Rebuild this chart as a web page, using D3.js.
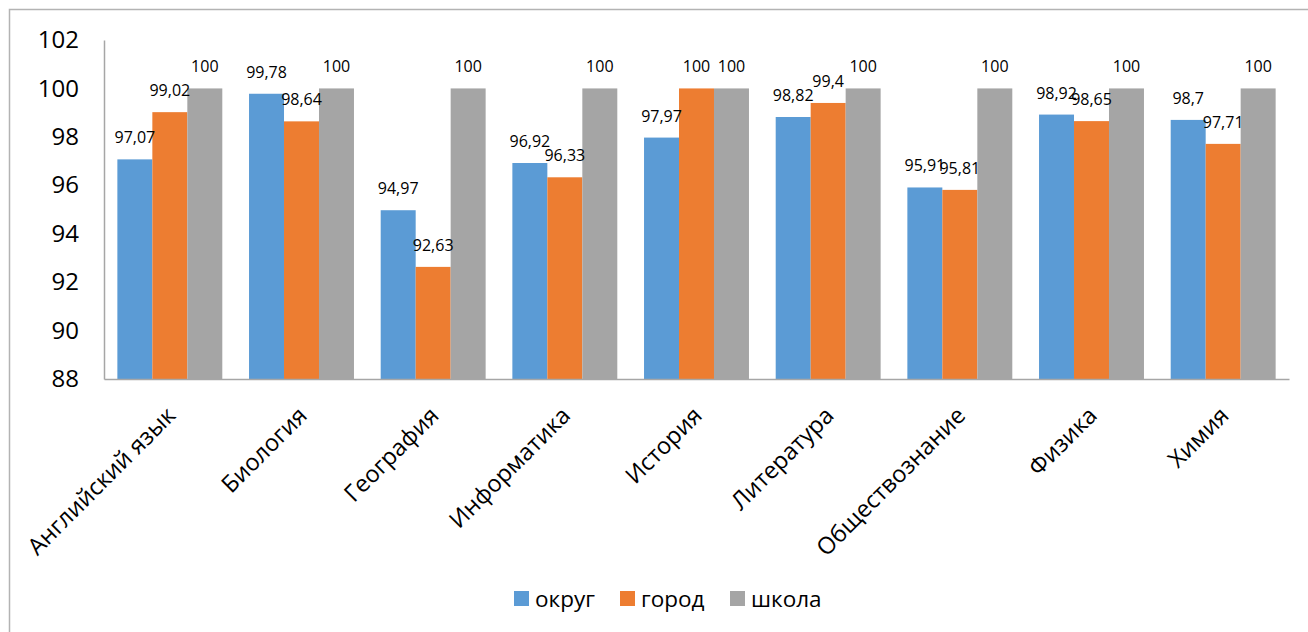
<!DOCTYPE html>
<html><head><meta charset="utf-8">
<script src="https://cdn.jsdelivr.net/npm/d3@7"></script>
<style>body{margin:0;background:#fff}svg{display:block;font-family:"Open Sans",sans-serif}</style>
</head><body>
<svg id="c" width="1308" height="632"></svg>
<script>
const categories = ["Английский язык","Биология","География","Информатика","История","Литература","Обществознание","Физика","Химия"];
const seriesNames = ["округ","город","школа"];
const okrug  = [97.07, 99.78, 94.97, 96.92, 97.97, 98.82, 95.91, 98.92, 98.7];
const gorod  = [99.02, 98.64, 92.63, 96.33, 100, 99.4, 95.81, 98.65, 97.71];
const shkola = [100, 100, 100, 100, 100, 100, 100, 100, 100];
const yTicks = [88, 90, 92, 94, 96, 98, 100, 102];
const colors = ["#5B9BD5", "#ED7D31", "#A5A5A5"];

(function () {
const seriesValues = [okrug, gorod, shkola];
const svg = d3.select("#c");
const pLeft = 104, pRight = 1289, pTop = 40, pBottom = 379;

svg.append("rect").attr("x", 9.5).attr("y", 9.5).attr("width", 1320).attr("height", 650)
  .attr("fill", "none").attr("stroke", "#b3b3b3").attr("stroke-width", 1.5);

const x = d3.scaleBand().domain(categories).range([pLeft, pRight]).paddingInner(0.203).paddingOuter(0.1015);
const xs = d3.scaleBand().domain(seriesNames).range([0, x.bandwidth()]).padding(0);
const y = d3.scaleLinear().domain([88, 102]).range([pBottom, pTop]);

const data = [];
categories.forEach((c, i) => seriesNames.forEach((s, j) => data.push({c, s, j, v: seriesValues[j][i]})));

svg.append("g").selectAll("rect").data(data).join("rect")
  .attr("x", d => x(d.c) + xs(d.s)).attr("y", d => y(d.v))
  .attr("width", xs.bandwidth()).attr("height", d => y(88) - y(d.v))
  .attr("fill", d => colors[d.j]);

svg.append("g").selectAll("text").data(data).join("text")
  .attr("x", d => x(d.c) + xs(d.s) + xs.bandwidth() / 2)
  .attr("y", d => y(d.v) - 16)
  .attr("text-anchor", "middle").attr("font-size", 16).attr("fill", "#000")
  .text(d => String(d.v).replace(".", ","));

const yAxis = d3.axisLeft(y).tickValues(yTicks).tickSize(0).tickPadding(25);
const gy = svg.append("g").attr("transform", `translate(${pLeft},0)`).call(yAxis);
gy.select(".domain").attr("stroke", "#a6a6a6").attr("stroke-width", 1.5);
gy.selectAll("text").attr("font-size", 24).attr("fill", "#000").attr("font-family", "Open Sans");

const xAxis = d3.axisBottom(x).tickSize(0).tickFormat(d => d);
const gx = svg.append("g").attr("transform", `translate(0,${pBottom})`).call(xAxis);
gx.select(".domain").attr("stroke", "#a6a6a6").attr("stroke-width", 1.5);
gx.selectAll("text")
  .attr("font-size", 23.5).attr("fill", "#000").attr("font-family", "Open Sans")
  .attr("text-anchor", "end").attr("dy", 0).attr("y", 0)
  .attr("transform", "translate(7,38) rotate(-45)");

const legX = [514, 620, 730];
const lg = svg.append("g");
seriesNames.forEach((s, j) => {
  lg.append("rect").attr("x", legX[j]).attr("y", 591).attr("width", 15).attr("height", 15).attr("fill", colors[j]);
  lg.append("text").attr("x", legX[j] + 21).attr("y", 607).attr("font-size", 22.5).attr("fill", "#000").text(s);
});
})();
</script>
</body></html>
